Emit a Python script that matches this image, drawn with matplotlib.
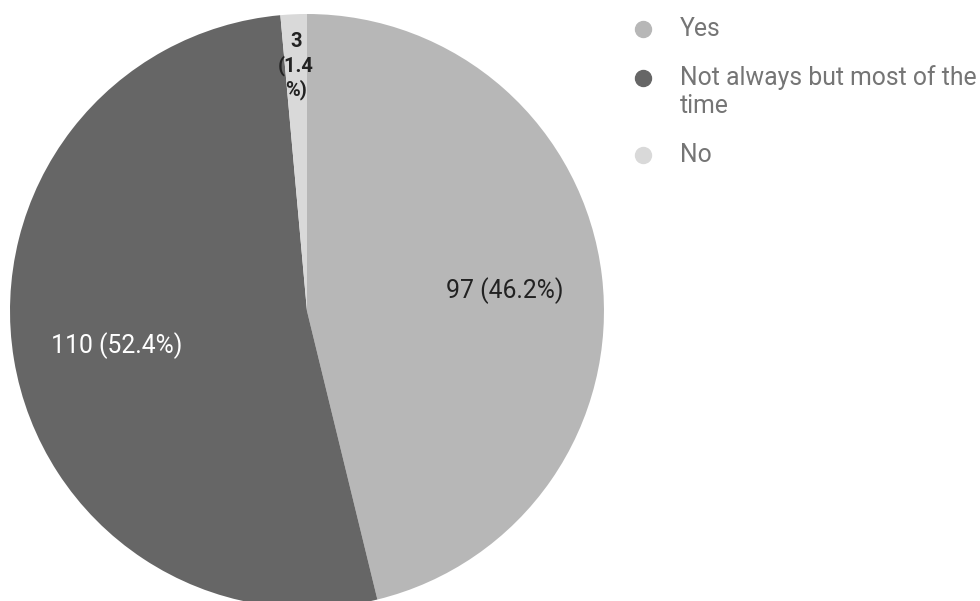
import numpy as np
import matplotlib
matplotlib.use("Agg")
import matplotlib.pyplot as plt
from matplotlib.lines import Line2D

categories = ["Yes", "Not always but most of the time", "No"]
values = [97, 110, 3]
colors = ["#b7b7b7", "#666666", "#d9d9d9"]
label_colors = ["#222222", "#ffffff", "#222222"]

plt.rcParams['font.family'] = ['Roboto', 'DejaVu Sans']

fig = plt.figure(figsize=(9.8, 6.01), dpi=100)
ax = fig.add_axes([0.0102, -0.01165, 0.6061, 0.9884])
wedges, _ = ax.pie(values, colors=colors, startangle=90, counterclock=False,
                   radius=1.0, wedgeprops=dict(linewidth=0))
ax.set_xlim(-1, 1)
ax.set_ylim(-1, 1)
ax.set_aspect('equal')
ax.axis('off')

total = sum(values)
dists = [0.67, 0.65, 0.825]
for w, v, c, d in zip(wedges, values, label_colors, dists):
    mid = np.deg2rad((w.theta1 + w.theta2) / 2)
    x, y = d * np.cos(mid), d * np.sin(mid)
    pct = 100 * v / total
    if pct < 5:
        txt = f"{v}\n({pct:.1f}\n%)"
        ax.text(x, y, txt, ha='center', va='center', fontsize=14.5,
                fontweight='bold', color=c, linespacing=1.25)
    else:
        txt = f"{v} ({pct:.1f}%)"
        ax.text(x, y - 0.01, txt, ha='center', va='center', fontsize=17.8, color=c)

# legend
leg_y = [29, 78, 155]
leg_lines = [["Yes"], ["Not always but most of the", "time"], ["No"]]
for yy, lines, col in zip(leg_y, leg_lines, colors):
    fig.add_artist(Line2D([643 / 980], [1 - yy / 601], marker='o',
                          markersize=11.5, color=col, linestyle='none',
                          transform=fig.transFigure))
    for k, t in enumerate(lines):
        fig.text(680 / 980, 1 - (yy + 28 * k) / 601, t, ha='left', va='center',
                 fontsize=17.8, color='#757575')

fig.savefig("out.png", dpi=100)
